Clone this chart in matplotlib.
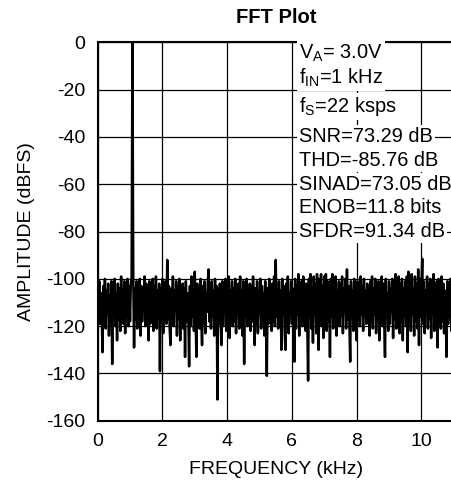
import matplotlib.pyplot as plt
import numpy as np

plt.rcParams['font.family'] = ['Liberation Sans', 'DejaVu Sans']
plt.rcParams['axes.unicode_minus'] = False

# FFT amplitude (dBFS), one value per bin, 0 .. 11 kHz
amp = [
    -104, -116, -101, -119, -106, -113, -131, -103, -118, -100, -121, -105, -114, -102, -124, -107, -117, -101, -136, -104,
    -115, -100, -120, -106, -126, -102, -117, -104, -122, -99, -113, -105, -119, -101, -123, -107, -116, -100, -120, -103,
    -118, -102, -99, 0, -98, -129, -104, -117, -101, -121, -106, -114, -100, -124, -103, -118, -105, -112, -99, -120,
    -102, -116, -104, -126, -101, -119, -106, -113, -100, -122, -103, -117, -99, -121, -105, -115, -102, -139, -104, -118,
    -100, -123, -106, -114, -101, -119, -92, -117, -103, -121, -128, -104, -116, -99, -120, -105, -113, -101, -124, -103,
    -117, -100, -126, -105, -115, -102, -121, -104, -133, -101, -118, -106, -114, -137, -103, -120, -99, -116, -105, -122,
    -97, -115, -133, -102, -118, -104, -121, -100, -116, -128, -103, -119, -101, -123, -106, -114, -102, -96, -118, -104,
    -121, -101, -116, -105, -124, -100, -117, -103, -151, -104, -119, -102, -115, -128, -101, -120, -106, -113, -100, -122,
    -103, -117, -99, -125, -105, -114, -101, -120, -104, -118, -100, -123, -106, -115, -102, -121, -99, -117, -105, -124,
    -101, -136, -104, -116, -100, -120, -106, -113, -102, -122, -103, -118, -99, -115, -128, -104, -119, -101, -123, -105,
    -114, -100, -121, -103, -117, -106, -124, -101, -116, -141, -104, -119, -100, -115, -105, -122, -102, -118, -99, -120,
    -92, -116, -104, -121, -101, -118, -105, -130, -100, -115, -103, -122, -130, -102, -117, -99, -123, -106, -114, -101,
    -119, -104, -116, -135, -100, -121, -103, -115, -98, -124, -105, -117, -101, -120, -99, -114, -106, -122, -102, -118,
    -143, -100, -116, -98, -121, -104, -127, -99, -115, -102, -123, -98, -118, -130, -100, -117, -98, -120, -103, -125,
    -99, -114, -98, -122, -101, -118, -104, -133, -100, -116, -98, -121, -103, -115, -99, -124, -105, -117, -101, -120,
    -102, -116, -99, -123, -104, -114, -100, -121, -96, -117, -103, -119, -135, -101, -115, -105, -122, -100, -118, -104,
    -126, -101, -117, -106, -120, -99, -115, -103, -122, -100, -116, -105, -119, -102, -113, -104, -124, -101, -118, -99,
    -121, -104, -115, -100, -123, -103, -117, -101, -126, -105, -114, -99, -120, -102, -118, -133, -100, -116, -106, -122,
    -101, -119, -104, -114, -100, -125, -103, -117, -98, -121, -105, -115, -99, -123, -102, -118, -100, -126, -104, -116,
    -101, -120, -99, -131, -97, -117, -103, -122, -98, -115, -104, -124, -99, -118, -102, -121, -96, -128, -100, -116,
    -103, -91.5, -119, -101, -123, -105, -114, -99, -121, -102, -117, -100, -125, -104, -115, -98, -122, -103, -118, -101,
    -129, -100, -116, -104, -121, -99, -118, -102, -123, -105, -114, -133, -101, -119, -103, -116, -100, -122, -104, -117,
    -102,
]
freq = np.linspace(0, 11, len(amp))   # bin frequencies in kHz

notes = [r'V$_\mathregular{A}$= 3.0V', r'f$_\mathregular{IN}$=1 kHz', r'f$_\mathregular{S}$=22 ksps',
         'SNR=73.29 dB', 'THD=-85.76 dB', 'SINAD=73.05 dB', 'ENOB=11.8 bits', 'SFDR=91.34 dB']
note_y = [-4.5, -15, -27, -40, -50, -60, -70, -80]

fig = plt.figure(figsize=(4.52, 4.87), dpi=100)
ax = fig.add_axes([0.216, 0.136, 0.788, 0.777])
ax.plot(freq, amp, color='black', linewidth=1.8)

ax.set_xlim(0, 11)
ax.set_ylim(-160, 0)
ax.set_xticks(np.arange(0, 11, 2))
ax.set_yticks(np.arange(-160, 1, 20))
ax.grid(True, color='black', linewidth=0.9)
ax.tick_params(length=0, labelsize=14, pad=9)
for s in ax.spines.values():
    s.set_linewidth(1.5)

# each note line sits on its own white patch, hiding the grid behind it
for t, yy in zip(notes, note_y):
    ax.text(6.22, yy, t, fontsize=14.4, va='center', ha='left',
            bbox=dict(facecolor='white', edgecolor='none', pad=1.6))

ax.set_title('FFT Plot', fontsize=14.5, fontweight='bold', pad=14)
ax.set_xlabel('FREQUENCY (kHz)', fontsize=14, labelpad=8)
ax.set_ylabel('AMPLITUDE (dBFS)', fontsize=14, labelpad=8)

fig.savefig('out.png', dpi=100)
